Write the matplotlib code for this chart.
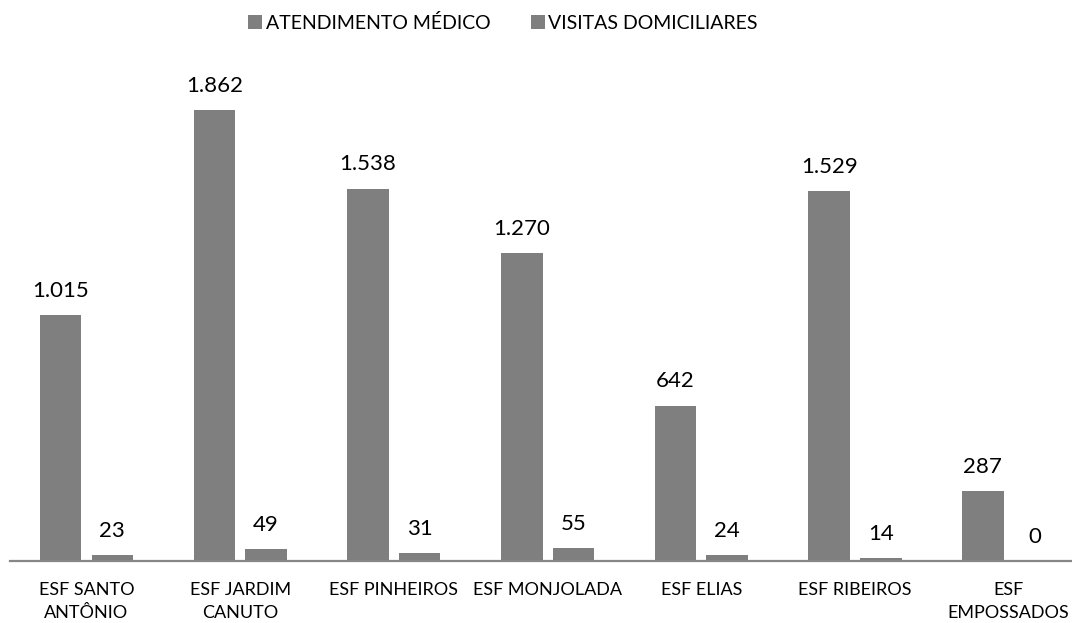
import matplotlib.pyplot as plt
import numpy as np

plt.rcParams['font.family'] = ['Lato', 'DejaVu Sans']

categories = ['ESF SANTO\nANTÔNIO', 'ESF JARDIM\nCANUTO', 'ESF PINHEIROS', 'ESF MONJOLADA',
              'ESF ELIAS', 'ESF RIBEIROS', 'ESF\nEMPOSSADOS']
atendimento = [1015, 1862, 1538, 1270, 642, 1529, 287]
visitas = [23, 49, 31, 55, 24, 14, 0]
series_names = ['ATENDIMENTO MÉDICO', 'VISITAS DOMICILIARES']


def fmt(v):
    return f'{v:,}'.replace(',', '.')


fig = plt.figure(figsize=(10.72, 6.23), dpi=100)
# axes reaches a little past the right edge, like the original
ax = fig.add_axes([9.6 / 1072, 62 / 623, 1076 / 1072, 481 / 623])

x = np.arange(len(categories))
w = 0.27
off = 0.168
b1 = ax.bar(x - off, atendimento, w, color='#7f7f7f', label=series_names[0])
b2 = ax.bar(x + off, visitas, w, color='#7f7f7f', label=series_names[1])

for bars, vals in ((b1, atendimento), (b2, visitas)):
    for r, v in zip(bars, vals):
        ax.annotate(fmt(v), (r.get_x() + r.get_width() / 2, v),
                    xytext=(0, 13), textcoords='offset points',
                    ha='center', va='baseline', fontsize=16, color='black')

ax.set_xlim(-0.5, 6.5)
ax.set_ylim(0, 1986)
ax.set_xticks(x)
ax.set_xticklabels(categories, fontsize=13, linespacing=1.55)
ax.tick_params(axis='x', length=0, pad=15)
ax.set_yticks([])
for s in ['top', 'right', 'left']:
    ax.spines[s].set_visible(False)
ax.spines['bottom'].set_color('#868686')
ax.spines['bottom'].set_linewidth(1.6)

fig.legend(loc='center', bbox_to_anchor=(503 / 1072, 1 - 23 / 623), ncol=2, frameon=False,
           fontsize=14, handlelength=0.7, handleheight=0.7, handletextpad=0.2,
           columnspacing=2.1)

fig.savefig('out.png', dpi=100)
